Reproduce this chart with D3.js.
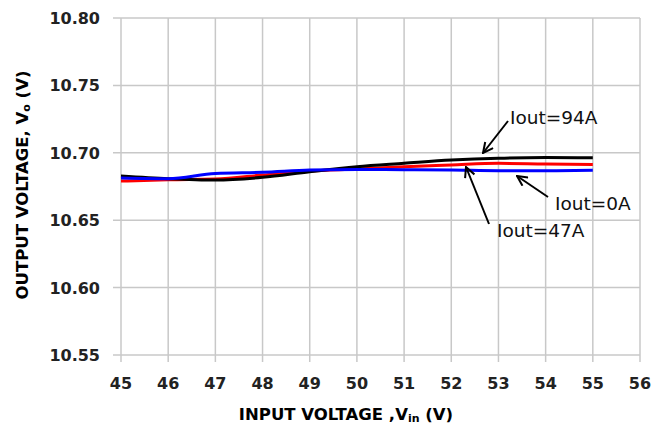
<!DOCTYPE html>
<html>
<head>
<meta charset="utf-8">
<script src="https://cdn.jsdelivr.net/npm/d3@7"></script>
<style>
body { margin: 0; background: #fff; }
svg text { font-family: "DejaVu Sans", sans-serif; }
</style>
</head>
<body>
<script>
"use strict";
const vin = [45, 46, 47, 48, 49, 50, 51, 52, 53, 54, 55];
const iout94 = [10.6828, 10.6808, 10.6798, 10.6818, 10.686, 10.6897, 10.6922, 10.6946, 10.696, 10.6965, 10.6963];
const iout47 = [10.679, 10.680, 10.6805, 10.6835, 10.6865, 10.688, 10.6897, 10.691, 10.6922, 10.6917, 10.6914];
const iout0 = [10.6813, 10.6808, 10.6847, 10.6856, 10.6872, 10.6877, 10.6874, 10.6872, 10.6867, 10.6867, 10.687];
const xTicks = [45, 46, 47, 48, 49, 50, 51, 52, 53, 54, 55, 56];
const yTicks = [10.55, 10.60, 10.65, 10.70, 10.75, 10.80];
const notes = [
	{label: "Iout=94A", tx: 510, ty: 124, from: [508, 121], to: [483, 153]},
	{label: "Iout=0A", tx: 555, ty: 210, from: [548, 197], to: [517, 176]},
	{label: "Iout=47A", tx: 497, ty: 237, from: [489, 224], to: [466, 167]}
];

const size = {"width": 653, "height": 428};
const svg = d3.select("body")
	.append("svg")
	.attr("width", size.width)
	.attr("height", size.height);

const x = d3.scaleLinear().domain([45, 56]).range([121, 640]);
const y = d3.scaleLinear().domain([10.55, 10.80]).range([355, 18]);

// grid
svg.append("g").selectAll("line")
	.data(xTicks)
	.enter()
	.append("line")
	.attr("x1", (d) => x(d)).attr("x2", (d) => x(d))
	.attr("y1", y(10.80)).attr("y2", y(10.55) + 7)
	.attr("stroke", "#c8c8c8").attr("stroke-width", 1.5);
svg.append("g").selectAll("line")
	.data(yTicks)
	.enter()
	.append("line")
	.attr("x1", x(45) - 8).attr("x2", x(56))
	.attr("y1", (d) => y(d)).attr("y2", (d) => y(d))
	.attr("stroke", "#c8c8c8").attr("stroke-width", 1.5);

// tick labels
svg.append("g").selectAll("text")
	.data(yTicks)
	.enter()
	.append("text")
	.attr("x", 100)
	.attr("y", (d) => y(d) + 6)
	.attr("text-anchor", "end")
	.attr("font-size", 16)
	.attr("font-weight", "bold")
	.attr("fill", "#222")
	.text((d) => d.toFixed(2));
svg.append("g").selectAll("text")
	.data(xTicks)
	.enter()
	.append("text")
	.attr("x", (d) => x(d))
	.attr("y", 389)
	.attr("text-anchor", "middle")
	.attr("font-size", 16)
	.attr("font-weight", "bold")
	.attr("fill", "#222")
	.text((d) => d);

// axis titles
const xt = svg.append("text")
	.attr("x", 346)
	.attr("y", 420)
	.attr("text-anchor", "middle")
	.attr("font-size", 16.5)
	.attr("font-weight", "bold");
xt.append("tspan").text("INPUT VOLTAGE ,V");
xt.append("tspan").attr("font-size", 11).attr("dy", 2).text("in");
xt.append("tspan").attr("dy", -2).text(" (V)");

const yt = svg.append("text")
	.attr("transform", "translate(28,185) rotate(-90)")
	.attr("text-anchor", "middle")
	.attr("font-size", 16.5)
	.attr("font-weight", "bold");
yt.append("tspan").text("OUTPUT VOLTAGE, V");
yt.append("tspan").attr("font-size", 11).attr("dy", 2).text("o");
yt.append("tspan").attr("dy", -2).text(" (V)");

// series
const line = d3.line()
	.x((d, i) => x(vin[i]))
	.y((d) => y(d))
	.curve(d3.curveMonotoneX);
[[iout47, "#ff0000"], [iout94, "#000000"], [iout0, "#0000ff"]].forEach((s) => {
	svg.append("path")
		.attr("d", line(s[0]))
		.attr("fill", "none")
		.attr("stroke", s[1])
		.attr("stroke-width", 3);
});

// annotations
svg.append("defs").append("marker")
	.attr("id", "arrow")
	.attr("viewBox", "0 0 12 12")
	.attr("refX", 11).attr("refY", 6)
	.attr("markerWidth", 12).attr("markerHeight", 12)
	.attr("markerUnits", "userSpaceOnUse")
	.attr("orient", "auto")
	.append("path")
	.attr("d", "M1,1 L11,6 L1,11")
	.attr("fill", "none")
	.attr("stroke", "#000")
	.attr("stroke-width", 2);
notes.forEach((n) => {
	svg.append("line")
		.attr("x1", n.from[0]).attr("y1", n.from[1])
		.attr("x2", n.to[0]).attr("y2", n.to[1])
		.attr("stroke", "#000").attr("stroke-width", 2)
		.attr("marker-end", "url(#arrow)");
	svg.append("text")
		.attr("x", n.tx)
		.attr("y", n.ty)
		.attr("font-size", 18.5)
		.attr("fill", "#111")
		.text(n.label);
});
</script>
</body>
</html>
